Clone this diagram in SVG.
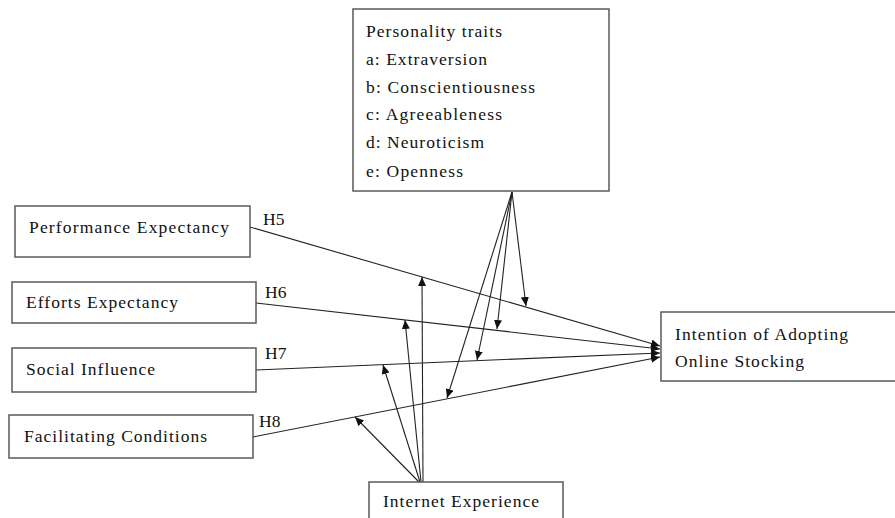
<svg xmlns="http://www.w3.org/2000/svg" width="895" height="518" viewBox="0 0 895 518">
<style>
.box{fill:#fff;stroke:#5a5a5a;stroke-width:1.5}
.t{font-family:'Liberation Serif','DejaVu Serif','Times New Roman',serif;font-size:17.5px;fill:#111}
.ln{stroke:#222;stroke-width:1.1;fill:none;marker-end:url(#ah)}
</style>
<defs>
<marker id="ah" markerUnits="userSpaceOnUse" markerWidth="10" markerHeight="8" refX="9" refY="4" orient="auto">
<path d="M0,0 L9,4 L0,8 Z" fill="#111"/>
</marker>
</defs>
<rect width="895" height="518" fill="#fff"/>
<g id="connectors">
<line class="ln" x1="250" y1="227" x2="660" y2="346"/>
<line class="ln" x1="256" y1="303" x2="660" y2="349"/>
<line class="ln" x1="256" y1="370" x2="660" y2="353"/>
<line class="ln" x1="253" y1="437" x2="660" y2="357"/>
<line class="ln" x1="512" y1="192" x2="526" y2="306"/>
<line class="ln" x1="512" y1="192" x2="497" y2="329"/>
<line class="ln" x1="512" y1="192" x2="477" y2="360"/>
<line class="ln" x1="512" y1="192" x2="447" y2="398"/>
<line class="ln" x1="423" y1="482" x2="422" y2="277"/>
<line class="ln" x1="421" y1="482" x2="405" y2="320"/>
<line class="ln" x1="420" y1="482" x2="383" y2="365"/>
<line class="ln" x1="419" y1="482" x2="355" y2="417"/>
<text class="t" x="263" y="225">H5</text>
<text class="t" x="265" y="298">H6</text>
<text class="t" x="265" y="359">H7</text>
<text class="t" x="259" y="427">H8</text>
</g>
<g id="personality">
<rect class="box" x="353" y="9" width="256" height="182"/>
<text class="t" x="366" y="37" textLength="136" lengthAdjust="spacing">Personality traits</text>
<text class="t" x="366" y="65" textLength="121" lengthAdjust="spacing">a: Extraversion</text>
<text class="t" x="366" y="93" textLength="169" lengthAdjust="spacing">b: Conscientiousness</text>
<text class="t" x="366" y="120" textLength="136" lengthAdjust="spacing">c: Agreeableness</text>
<text class="t" x="366" y="148" textLength="118" lengthAdjust="spacing">d: Neuroticism</text>
<text class="t" x="366" y="177" textLength="97" lengthAdjust="spacing">e: Openness</text>
</g>
<g id="performance">
<rect class="box" x="15" y="206" width="235" height="51"/>
<text class="t" x="29" y="233" textLength="200" lengthAdjust="spacing">Performance Expectancy</text>
</g>
<g id="efforts">
<rect class="box" x="12" y="282" width="244" height="41"/>
<text class="t" x="26" y="308" textLength="152" lengthAdjust="spacing">Efforts Expectancy</text>
</g>
<g id="social">
<rect class="box" x="12" y="348" width="244" height="44"/>
<text class="t" x="26" y="375" textLength="129" lengthAdjust="spacing">Social Influence</text>
</g>
<g id="facilitating">
<rect class="box" x="9" y="415" width="244" height="43"/>
<text class="t" x="24" y="442" textLength="183" lengthAdjust="spacing">Facilitating Conditions</text>
</g>
<g id="intention">
<rect class="box" x="661" y="312" width="250" height="69"/>
<text class="t" x="675" y="340" textLength="173" lengthAdjust="spacing">Intention of Adopting</text>
<text class="t" x="675" y="367" textLength="129" lengthAdjust="spacing">Online Stocking</text>
</g>
<g id="internet">
<rect class="box" x="369" y="482" width="194" height="50"/>
<text class="t" x="383" y="507" textLength="156" lengthAdjust="spacing">Internet Experience</text>
</g>
</svg>
